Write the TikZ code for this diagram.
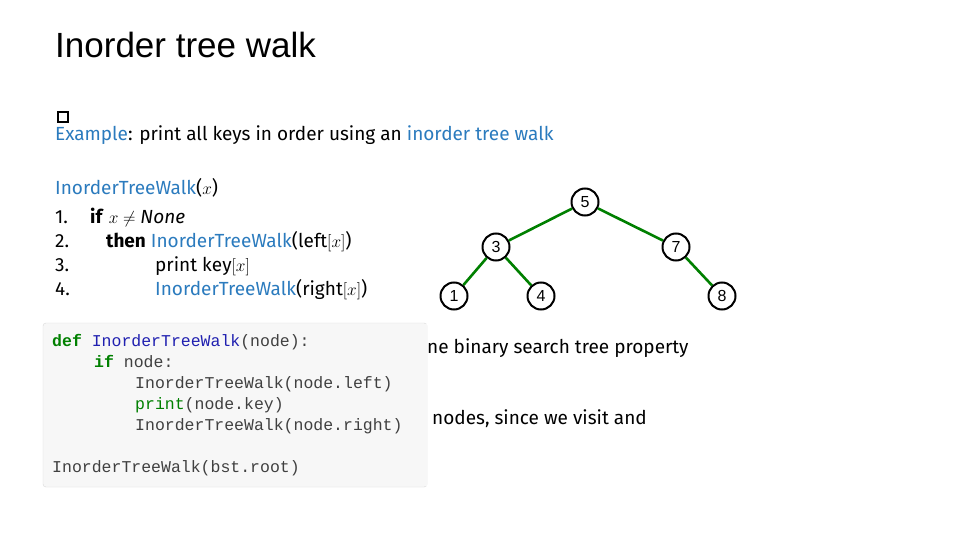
\documentclass[tikz,border=0pt]{standalone}
\usepackage{fontspec}
\setmainfont{Fira Sans}
\newfontfamily\titlefont{Liberation Sans}
\newfontfamily\codefont{Liberation Mono}
\begin{document}
\begin{tikzpicture}[x=1pt,y=-1pt,
  tn/.style={circle,draw=black,line width=2pt,fill=white,minimum size=27pt,inner sep=0pt,font=\titlefont\fontsize{16}{16}\selectfont},
  te/.style={draw=green!50!black,line width=2.6pt},
  body/.style={anchor=base west,inner sep=0pt,font=\fontsize{19}{22}\selectfont},
  cl/.style={anchor=base west,inner sep=0pt,font=\codefont\fontsize{16.5}{17}\selectfont,text=black!75}]
\definecolor{hb}{HTML}{2B7BBE}
\definecolor{cgreen}{HTML}{008000}
\definecolor{cblue}{HTML}{2020B0}
\useasboundingbox (0,0) rectangle (960,540);
\fill[white] (0,0) rectangle (960,540);
\node[anchor=base west,inner sep=0pt,font=\titlefont\fontsize{35}{36}\selectfont] (title) at (55,58) {Inorder tree walk};
\draw[line width=2pt] (58,112) rectangle (68,122);
\node[body] (ex) at (55,141) {\textcolor{hb}{Example}: print all keys in order using an \textcolor{hb}{inorder tree walk}};
\node[body] (hd) at (55,194) {\textcolor{hb}{InorderTreeWalk}($x$)};
\node[body] (n1) at (55,223) {1.};
\node[body] (n2) at (55,247) {2.};
\node[body] (n3) at (55,271) {3.};
\node[body] (n4) at (55,295) {4.};
\node[body] (l1) at (90,223) {\textbf{if} $x \neq \mathit{None}$};
\node[body] (l2) at (106,247) {\textbf{then} \textcolor{hb}{InorderTreeWalk}($\mathrm{left}[x]$)};
\node[body] (l3) at (155,271) {print $\mathrm{key}[x]$};
\node[body] (l4) at (155,295) {\textcolor{hb}{InorderTreeWalk}($\mathrm{right}[x]$)};
\node[body] (t1) at (427,353) {ne binary search tree property};
\node[body] (t2) at (432,424) {nodes, since we visit and};
\draw[draw=black!15,fill=black!3,rounded corners=3pt] (43,323) rectangle (427,487);
\fill[black!3] (420,324) rectangle (427,486);
\node[cl] (c1) at (52,346) {\textcolor{cgreen}{\textbf{def}} \textcolor{cblue}{InorderTreeWalk}(node):};
\node[cl] (c2) at (94,367) {\textcolor{cgreen}{\textbf{if}} node:};
\node[cl] (c3) at (135,388) {InorderTreeWalk(node.left)};
\node[cl] (c4) at (135,409) {\textcolor{cgreen}{print}(node.key)};
\node[cl] (c5) at (135,430) {InorderTreeWalk(node.right)};
\node[cl] (c6) at (52,472) {InorderTreeWalk(bst.root)};
\node[tn] (k5) at (585,202) {5};
\node[tn] (k3) at (496,247) {3};
\node[tn] (k7) at (676,247) {7};
\node[tn] (k1) at (454,296) {1};
\node[tn] (k4) at (541,296) {4};
\node[tn] (k8) at (722,296) {8};
\draw[te] (k5) -- (k3);
\draw[te] (k5) -- (k7);
\draw[te] (k3) -- (k1);
\draw[te] (k3) -- (k4);
\draw[te] (k7) -- (k8);
\end{tikzpicture}
\end{document}
